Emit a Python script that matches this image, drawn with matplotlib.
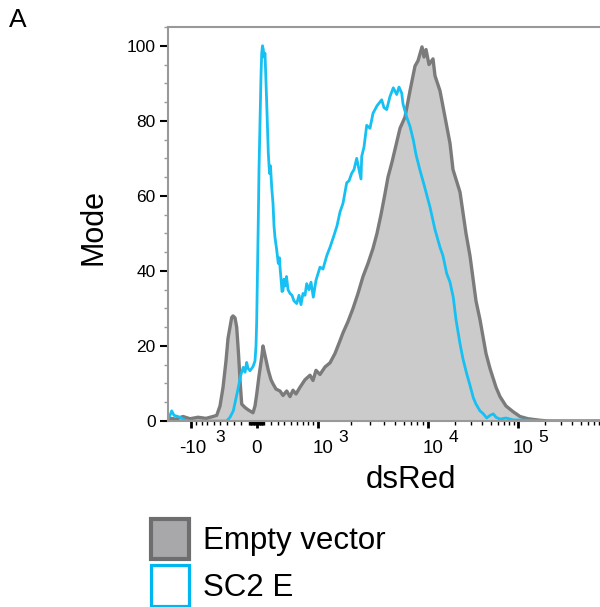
import matplotlib
matplotlib.use("Agg")
import matplotlib.pyplot as plt
import numpy as np
from matplotlib.patches import Patch
from matplotlib.transforms import blended_transform_factory, offset_copy

plt.rcParams['font.family'] = ['Liberation Sans', 'DejaVu Sans']

# histogram traces, x in display channels (0-432 across the plot), y in % of mode
empty_x = [0, 8, 15, 22, 30, 38, 45, 48.7, 52, 55, 58, 60, 63.7, 65, 67, 68.7, 70.5,
           72, 73.7, 77, 80, 85, 87, 88.7, 91, 93.7, 95, 97, 100.3, 103, 105, 108,
           112, 115, 118.7, 122, 125, 128, 132, 137, 142, 145, 148, 152, 157, 162,
           167, 172, 175, 180, 185, 190, 195, 200, 205, 209, 213, 217, 220, 224,
           228, 232, 237, 242, 247, 250, 254, 256, 258, 261, 265, 267, 272, 277,
           282, 285, 292, 298, 302, 308, 312, 318, 322, 328, 332, 338, 345, 352,
           360, 372, 380, 432]
empty_y = [0.8, 0.5, 1.2, 0.6, 1.0, 0.7, 1.2, 1.5, 4, 8.9, 16, 22, 27.6, 28, 27.5,
           25, 18, 11, 4.5, 3.6, 3.0, 2.2, 4, 7.1, 12, 17, 20, 17.5, 13.5, 11, 9.9,
           8.5, 8.0, 6.8, 8.0, 6.5, 8.2, 7.2, 9, 11, 12.2, 10.8, 13.5, 12.4, 14.4,
           15.5, 18, 21.4, 23.5, 26.5, 30, 34, 38.5, 42, 46, 50, 55, 60.6, 65, 69,
           73.5, 78, 81, 88, 94.6, 96, 99.7, 97, 99, 95, 96.5, 92, 88, 81, 74, 67,
           61, 50, 44, 32, 27, 18, 14, 9, 6.5, 4, 2.5, 1.2, 0.6, 0.2, 0, 0]

sc2e_x = [0, 2, 3.7, 6, 8.7, 12, 15, 18.7, 58.7, 62, 65.3, 68, 70.3, 72.5, 75.3, 77,
          78.7, 80, 82, 85, 87, 88, 88.7, 89.5, 90.3, 91, 92, 93, 93.7, 94.5, 95.3,
          96, 97, 97.8, 98.7, 99.5, 100.3, 101.5, 102.5, 103.7, 105, 106, 107,
          108.5, 110.3, 111.5, 112, 113, 114, 115, 116, 117, 118.5, 120, 122, 124,
          126, 128.7, 131, 133, 135, 137, 138.7, 141, 143, 145.3, 148, 152, 155,
          158.7, 162, 165.3, 169, 172, 175, 178.7, 181, 183.7, 186, 188.7, 193,
          193.7, 196, 198.7, 202, 205, 209, 213.7, 216, 218.7, 222, 225.3, 228.7,
          231, 233.7, 235, 238.7, 242, 245.3, 248, 252, 256, 262, 267, 272, 275,
          278.7, 282, 285.3, 288, 292, 295, 298.7, 302, 305.3, 308, 312, 315,
          318.7, 322, 325.3, 328, 332, 338, 345, 360, 380, 432]
sc2e_y = [0.5, 1.5, 2.7, 1.5, 1.3, 1.0, 0.5, 0, 0, 1, 2.7, 6, 8.9, 12, 14.3, 13,
          15.6, 14, 13.4, 14.5, 16, 20, 26.7, 40, 53.5, 67, 80.2, 92, 98, 100, 99,
          97, 98, 92, 84.8, 78, 71.4, 66, 68, 62.3, 58, 52, 48.9, 46, 42, 43.5, 41,
          38, 34.5, 34.8, 37.8, 36, 38.5, 35, 34, 33.5, 32, 31.3, 33.5, 31, 34,
          33.5, 36.6, 35, 37, 33, 37.5, 41, 40.5, 44, 46.3, 48.9, 52, 55.7, 58,
          63.5, 64, 66, 67, 70, 64.5, 70.5, 73, 78.8, 78, 82, 84, 85.6, 83.5, 83,
          86.5, 88.8, 87, 89, 87.4, 84.5, 81, 78.5, 74.9, 71, 66.8, 63, 57, 51,
          46.3, 44, 39.3, 37, 32.9, 27, 20.6, 16.5, 12.6, 9.5, 6.2, 4.5, 2.7, 2,
          0.8, 1.5, 1.9, 1, 0.5, 0.8, 0.3, 0.2, 0, 0]

major_values = [-1000, 0, 1000, 10000, 100000]
major_bases = ['-10', '0', '10', '10', '10']
major_powers = ['3', '', '3', '4', '5']

series_names = ['Empty vector', 'SC2 E']


def to_channel(v):
    # biexponential-like display of the dsRed axis
    if v >= 10000:
        return 260 + 90 * (np.log10(v) - 4)
    if v >= 1000:
        return 150 + 110 * (np.log10(v) - 3)
    if v <= -1000:
        return 22.7 - 66 * (np.log10(-v) - 3)
    s = np.arcsinh(abs(v) / 894) / np.arcsinh(1000 / 894)
    return 88.7 + 61.3 * s if v >= 0 else 88.7 - 66 * s


minor_values = ([-k * 100 for k in range(1, 10)] + [-k * 10 for k in range(1, 10)] +
                [k * 10 for k in range(1, 10)] + [k * 100 for k in range(1, 10)] +
                [k * 1000 for k in range(2, 10)] + [k * 10000 for k in range(2, 10)] +
                [k * 100000 for k in range(2, 9)])

fig = plt.figure(figsize=(6.0, 6.07), dpi=100)
ax = fig.add_axes([168 / 600, 1 - 421 / 607, 432 / 600, 394 / 607])

ax.fill_between(empty_x, empty_y, 0, color='#cbcbcb', lw=0)
ax.plot(empty_x, empty_y, color='#7b7b7b', lw=2.4)
ax.plot(sc2e_x, sc2e_y, color='#16c0f2', lw=2.0)

ax.set_xlim(0, 432)
ax.set_ylim(0, 105)

major_pos = [to_channel(v) for v in major_values]
ax.set_xticks(major_pos)
ax.set_xticklabels([])
ax.set_xticks([to_channel(v) for v in minor_values], minor=True)
ax.set_yticks([0, 20, 40, 60, 80, 100])
ax.set_yticks(np.arange(5, 106, 5), minor=True)

# tick labels with raised exponents, FlowJo style
trans = blended_transform_factory(ax.transData, ax.transAxes)
for pos, base, power in zip(major_pos, major_bases, major_powers):
    if power:
        dx_base, dx_pow = (2, 29) if base.startswith('-') else (5, 25)
    else:
        dx_base, dx_pow = 0, 0
    ax.text(pos, -0.071, base, fontsize=13.5, ha='center', va='center',
            transform=offset_copy(trans, fig, x=dx_base, y=0, units='dots'))
    if power:
        ax.text(pos, -0.041, power, fontsize=12.5, ha='center', va='center',
                transform=offset_copy(trans, fig, x=dx_pow, y=0, units='dots'))

for side in ['left', 'bottom', 'top']:
    ax.spines[side].set_color('#999999')
    ax.spines[side].set_linewidth(1.5)
ax.spines['right'].set_visible(False)

ax.tick_params(axis='y', which='major', length=6, width=1.5, color='black',
               labelsize=12.5, pad=3)
ax.tick_params(axis='y', which='minor', length=3, width=1, color='#999999')
ax.tick_params(axis='x', which='major', length=5, width=2, color='black')
ax.tick_params(axis='x', which='minor', length=3, width=1, color='black')

fig.text(93 / 600, 1 - 227 / 607, 'Mode', rotation=90, fontsize=22,
         ha='center', va='center')
fig.text(411 / 600, 1 - 480 / 607, 'dsRed', fontsize=22.5, ha='center', va='center')
fig.text(9 / 600, 1 - 8 / 607, 'A', fontsize=19, ha='left', va='top')

handles = [Patch(facecolor='#a8a8aa', edgecolor='#6e6e6e', linewidth=3),
           Patch(facecolor='white', edgecolor='#00b6f0', linewidth=2.3)]
fig.legend(handles, series_names, loc='upper left',
           bbox_to_anchor=(151 / 600, 1 - 519 / 607), frameon=False, fontsize=22.5,
           handlelength=1.22, handleheight=1.6, handletextpad=0.45,
           labelspacing=0.2, borderpad=0, borderaxespad=0)

fig.savefig('out.png', dpi=100)
